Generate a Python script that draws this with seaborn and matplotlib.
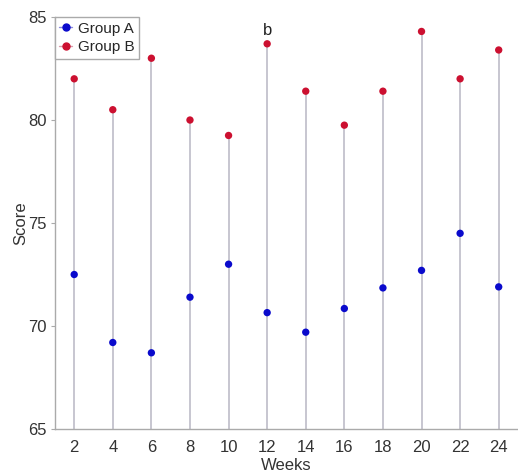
import numpy as np
import pandas as pd
import matplotlib
matplotlib.use("Agg")
import matplotlib.pyplot as plt
import seaborn as sns
from matplotlib.lines import Line2D

weeks = [2, 4, 6, 8, 10, 12, 14, 16, 18, 20, 22, 24]
group_a = [72.5, 69.2, 68.7, 71.4, 73.0, 70.65, 69.7, 70.85, 71.85, 72.7, 74.5, 71.9]
group_b = [82.0, 80.5, 83.0, 80.0, 79.25, 83.7, 81.4, 79.75, 81.4, 84.3, 82.0, 83.4]

df = pd.DataFrame({"Weeks": weeks * 2,
                   "Score": group_a + group_b,
                   "Group": ["Group A"] * 12 + ["Group B"] * 12})

sns.set_style("white")
plt.rcParams['font.family'] = ['Liberation Sans', 'DejaVu Sans']

blue = "#0a0acc"
red = "#cc1030"
stem = "#b8b6c4"

fig = plt.figure(figsize=(5.18, 4.73), dpi=100)
ax = fig.add_axes([0.106, 0.093, 0.894, 0.871])

# stems from the baseline up to group B
ax.vlines(weeks, 65, group_b, color=stem, lw=1.1, zorder=1)

sns.scatterplot(data=df, x="Weeks", y="Score", hue="Group",
                palette={"Group A": blue, "Group B": red},
                s=28, edgecolor="none", legend=False, ax=ax, zorder=3)

ax.text(12, 84.35, "b", ha="center", va="center", fontsize=12, color="#222222")

ax.set_xlim(1, 25)
ax.set_ylim(65, 85)
ax.set_xticks(weeks)
ax.set_yticks([65, 70, 75, 80, 85])
ax.set_xlabel("Weeks", fontsize=12, color="#333333", labelpad=2)
ax.set_ylabel("Score", fontsize=12, color="#333333", labelpad=0)
ax.tick_params(axis="x", length=0, pad=8, labelsize=12, labelcolor="#333333")
ax.tick_params(axis="y", direction="out", length=3, color="#aaaaaa", pad=3,
               labelsize=12, labelcolor="#333333", left=True)
for s in ["top", "right"]:
    ax.spines[s].set_visible(False)
for s in ["left", "bottom"]:
    ax.spines[s].set_color("#aaaaaa")
    ax.spines[s].set_linewidth(1)

handles = [Line2D([0, 1], [0, 0], color="#8888dd", lw=1, marker="o", markersize=5,
                  markerfacecolor=blue, markeredgecolor=blue, markevery=[1]),
           Line2D([0, 1], [0, 0], color="#d89aaa", lw=1, marker="o", markersize=5,
                  markerfacecolor=red, markeredgecolor=red, markevery=[1])]
leg = ax.legend(handles, ["Group A", "Group B"], loc="upper left",
                bbox_to_anchor=(0, 1), fontsize=11, frameon=True, fancybox=False,
                handlelength=0.8, handletextpad=0.4, borderpad=0.3,
                labelspacing=0.3, borderaxespad=0)
leg.get_frame().set_edgecolor("#aaaaaa")
leg.get_frame().set_linewidth(1)
leg.get_frame().set_alpha(1)

fig.savefig("out.png", dpi=100)
